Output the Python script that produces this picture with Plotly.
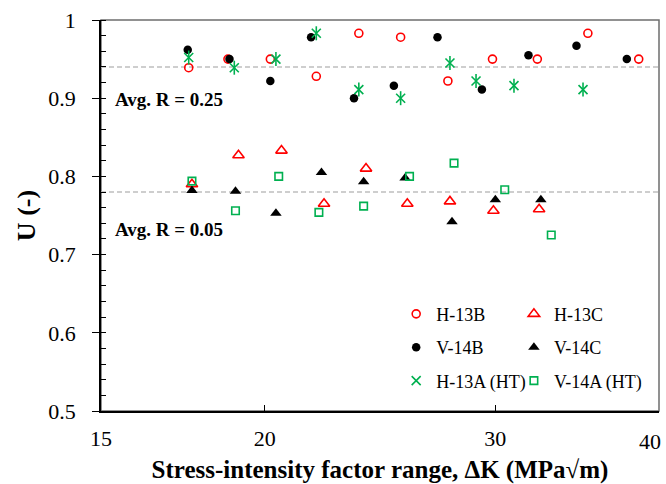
import math
import plotly.graph_objects as go

# ---- data ----
h13b_x = [17.5, 18.75, 20.2, 21.9, 23.6, 25.4, 27.6, 29.85, 32.3, 35.3, 38.6]
h13b_y = [0.939, 0.95, 0.95, 0.928, 0.983, 0.978, 0.922, 0.95, 0.95, 0.983, 0.95]

v14b_x = [17.47, 18.8, 20.2, 21.7, 23.4, 25.1, 27.1, 29.3, 31.8, 34.6, 37.8]
v14b_y = [0.962, 0.95, 0.922, 0.978, 0.90, 0.916, 0.978, 0.911, 0.955, 0.967, 0.95]

h13a_x = [17.5, 18.96, 20.4, 21.9, 23.6, 25.4, 27.7, 29.0, 31.0, 35.0]
h13a_y = [0.952, 0.939, 0.95, 0.983, 0.911, 0.90, 0.945, 0.922, 0.916, 0.911]

h13c_x = [17.6, 19.1, 20.6, 22.2, 23.9, 25.7, 27.7, 29.9, 32.4]
h13c_y = [0.79, 0.827, 0.833, 0.765, 0.81, 0.765, 0.768, 0.756, 0.758]

v14c_x = [17.6, 19.0, 20.4, 22.1, 23.8, 25.6, 27.8, 30.0, 32.5]
v14c_y = [0.782, 0.781, 0.753, 0.805, 0.793, 0.798, 0.742, 0.770, 0.770]

v14a_x = [17.6, 19.0, 20.5, 22.0, 23.8, 25.8, 27.9, 30.5, 33.1]
v14a_y = [0.794, 0.756, 0.80, 0.754, 0.762, 0.80, 0.817, 0.783, 0.725]

avg_values = [0.94, 0.78]
avg_labels = ["Avg. R = 0.25", "Avg. R = 0.05"]
avg_label_y = [0.898, 0.7315]

x_ticks = [15, 20, 30, 40]
x_ticklabels = ["15", "20", "30", "40"]
x_range = [15, 40]
y_range = [0.5, 1.0]

RED = "#FF0000"
BLACK = "#000000"
GREEN = "#00B050"
FONT = "Liberation Serif"

fig = go.Figure()

def add(x, y, name, symbol, color, size, legend, group, open_=True, showlegend=True):
    marker = dict(symbol=symbol, size=size)
    if open_:
        marker.update(color=color, line=dict(color=color, width=1.6))
    else:
        marker.update(color=color, line=dict(width=0))
    fig.add_trace(go.Scatter(x=x, y=y, mode="markers", name=name, marker=marker,
                             legend=legend, legendgroup=group, showlegend=showlegend))

add(h13b_x, h13b_y, "H-13B", "circle-open", RED, 8, "legend", "a")
add(v14b_x, v14b_y, "V-14B", "circle", BLACK, 8.5, "legend", "b", open_=False)
add(h13a_x, h13a_y, "H-13A (HT)", "x-thin-open", GREEN, 9, "legend", "c")
add(h13a_x, h13a_y, "H-13A (HT)", "line-ns-open", GREEN, 10, "legend", "c", showlegend=False)
add(h13c_x, h13c_y, "H-13C", "triangle-up-open", RED, 10, "legend2", "d")
add(v14c_x, v14c_y, "V-14C", "triangle-up", BLACK, 10, "legend2", "e", open_=False)
add(v14a_x, v14a_y, "V-14A (HT)", "square-open", GREEN, 7.5, "legend2", "f")

shapes = [dict(type="rect", xref="paper", yref="paper", x0=0, x1=1, y0=0, y1=1,
               line=dict(color="#6e6e6e", width=1.5), layer="below")]
for v in avg_values:
    shapes.append(dict(type="line", xref="paper", yref="y", x0=0, x1=1, y0=v, y1=v,
                       line=dict(color="#BFBFBF", width=1.5, dash="5px,3px"), layer="below"))

annotations = []
for lab, yy in zip(avg_labels, avg_label_y):
    annotations.append(dict(text="<b>%s</b>" % lab, xref="paper", yref="y", x=0.022, y=yy,
                            xanchor="left", yanchor="middle", showarrow=False,
                            font=dict(family=FONT, size=19, color="black")))
# last x tick label (40 sits on the right edge of the axis), kept inside the page
annotations.append(dict(text=x_ticklabels[-1], xref="paper", yref="paper",
                        x=1, y=0, xanchor="right", yanchor="middle",
                        xshift=4, yshift=-30, showarrow=False,
                        font=dict(family=FONT, size=22, color="black")))

legend_common = dict(bgcolor="rgba(0,0,0,0)", font=dict(family=FONT, size=18, color="black"),
                     xanchor="left", yanchor="top", tracegroupgap=7, itemwidth=30,
                     orientation="v")

fig.update_layout(
    width=666, height=484,
    margin=dict(l=101, r=7, t=20, b=73),
    paper_bgcolor="white", plot_bgcolor="white",
    font=dict(family=FONT, size=22, color="black"),
    shapes=shapes, annotations=annotations,
    legend=dict(x=0.529, y=0.295, **legend_common),
    legend2=dict(x=0.740, y=0.295, **legend_common),
    xaxis=dict(type="log", automargin=False,
               range=[math.log10(x_range[0]) - 1e-5, math.log10(x_range[1]) + 1e-5],
               tickvals=x_ticks, ticktext=x_ticklabels[:-1] + [""],
               ticks="inside", ticklen=6, tickcolor="black", ticklabelstandoff=7,
               showline=True, linecolor="black", linewidth=1.5,
               showgrid=False, zeroline=False,
               tickfont=dict(family=FONT, size=22),
               title=dict(text="<b>Stress-intensity factor range, ΔK (MPa√m)</b>",
                          font=dict(family=FONT, size=25), standoff=10)),
    yaxis=dict(range=y_range, dtick=0.1, tick0=0.5, automargin=False,
               ticks="outside", ticklen=7, tickcolor="black", ticklabelstandoff=12,
               minor=dict(dtick=0.02, ticks="inside", ticklen=5, tickcolor="black"),
               showline=True, linecolor="black", linewidth=1.5,
               showgrid=False, zeroline=False,
               tickfont=dict(family=FONT, size=22),
               title=dict(text="<b>U (-)</b>", font=dict(family=FONT, size=26), standoff=5)),
)

# remove the browser's default page margin so the 666x484 figure fills the window exactly
fig.write_html("out.html", config={"displayModeBar": False},
               post_script="document.body.style.margin='0';document.body.style.padding='0';")
